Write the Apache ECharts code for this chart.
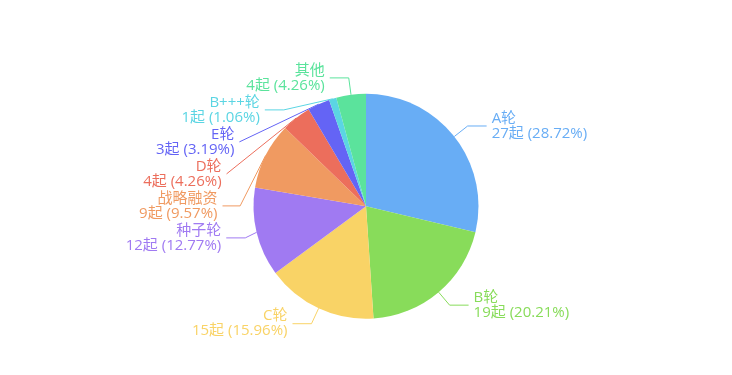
<!DOCTYPE html>
<html><head><meta charset="utf-8">
<script src="https://cdn.jsdelivr.net/npm/echarts@6/dist/echarts.min.js"></script>
<style>html,body{margin:0;padding:0;background:#fff}#c{width:732px;height:375px}</style>
</head><body><div id="c"></div>
<script>
var categories = ['A轮','B轮','C轮','种子轮','战略融资','D轮','E轮','B+++轮','其他'];
var values = [27,19,15,12,9,4,3,1,4];
var colors = ['#68adf5','#88dc5a','#f9d366','#a07af2','#f09a61','#ec6e5c','#6464f5','#5bd5e3','#5be39c'];
var chart = echarts.init(document.getElementById('c'));
chart.setOption({
  animation:false,
  color: colors,
  series:[{
    type:'pie',
    radius:'60%',
    center:['50%','55%'],
    data: categories.map(function(n,i){return {name:n,value:values[i]};}),
    label:{
      formatter:'{b}\n{c}起 ({d}%)',
      fontSize:15,
      lineHeight:15,
      fontFamily:'"Open Sans","Noto Sans CJK SC",sans-serif',
      color:'inherit'
    },
    labelLine:{length:17,length2:19}
  }]
});
</script></body></html>
